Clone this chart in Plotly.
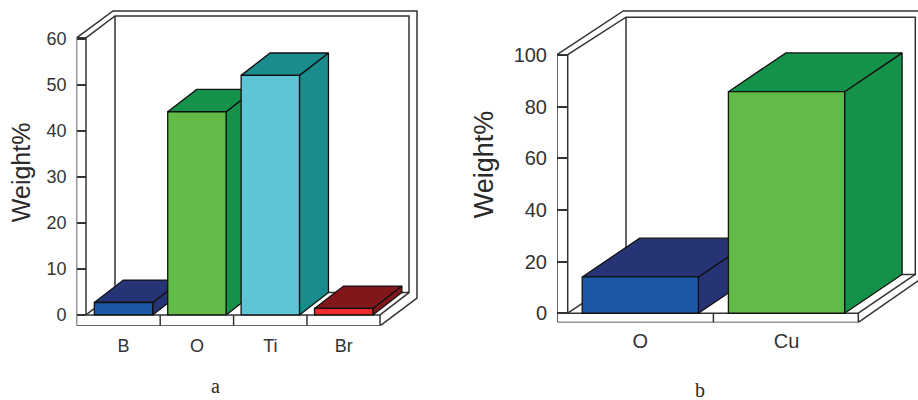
import plotly.graph_objects as go

# ---- data ----
cats_a = ["B", "O", "Ti", "Br"]
vals_a = [2.7, 44.1, 52.0, 1.4]
front_a = ["#1c57a5", "#62bb46", "#5cc6d6", "#ee2a2b"]
dark_a = ["#263375", "#15924a", "#1a8c8d", "#81171a"]
ticks_a = [0, 10, 20, 30, 40, 50, 60]

cats_b = ["O", "Cu"]
vals_b = [14.05, 85.8]
front_b = ["#1c57a5", "#62bb46"]
dark_b = ["#263375", "#15924a"]
ticks_b = [0, 20, 40, 60, 80, 100]

W, H = 918, 400
EDGE = "#111111"
FRAME = "#333333"
TXT = "#333333"
FONT = "Liberation Sans, Arial, sans-serif"
BAR_W = 0.795

fig = go.Figure()


def panel(cats, vals, front, dark, ticks, xa, ya, xb, yb, g, font_size):
    """g holds the panel's scale (px of first bar centre, pitch, zero, px per unit) and frame."""
    cx0, pitch, y0, ppu = g["cx0"], g["pitch"], g["y0"], g["ppu"]
    X = lambda px: (px - cx0) / pitch
    Y = lambda py: (y0 - py) / ppu
    ddx, ddy = g["ddx"] / pitch, g["ddy"] / ppu

    # frame
    fx, fy = [], []

    def seg(*pts):
        for p in pts:
            fx.append(X(p[0]))
            fy.append(Y(p[1]))
        fx.append(None)
        fy.append(None)

    L, I, R, top, bot, base = g["L"], g["I"], g["R"], g["top"], g["bot"], y0
    bi, bin_r, bt, bb = g["bi"], g["bi_r"], g["bt"], g["bb"]
    ol, ot, orx, ory = g["ol"], g["ot"], g["orx"], g["ory"]
    seg((L, top), (L, bot), (R, bot), (R, base), (I, base), (I, top), (L, top))
    seg((L, top), (ol, ot), (orx, ot), (orx, ory), (R, bot))
    seg((I, top), (bi, bt), (bin_r, bt), (bin_r, bb), (bi, bb), (bi, bt))
    seg((I, base), (bi, bb))
    seg((R, base), (bin_r, bb))
    for i in range(len(cats) - 1):
        mid = cx0 + pitch * (i + 0.5)
        seg((mid, base), (mid, bot))
    fig.add_trace(go.Scatter(x=fx, y=fy, mode="lines", xaxis=xa, yaxis=ya, hoverinfo="skip",
                             showlegend=False, line=dict(color=FRAME, width=1.5)))

    # side and top faces, in the panel's data coordinates
    for i, v in enumerate(vals):
        l, r = i - BAR_W / 2, i + BAR_W / 2
        for px, py in (
            ([r, r, r + ddx, r + ddx, r], [0, v, v + ddy, ddy, 0]),
            ([l, r, r + ddx, l + ddx, l], [v, v, v + ddy, v + ddy, v]),
        ):
            fig.add_trace(go.Scatter(x=px, y=py, mode="lines", fill="toself", fillcolor=dark[i],
                                     xaxis=xa, yaxis=ya, hoverinfo="skip", showlegend=False,
                                     line=dict(color=EDGE, width=1.3)))

    # front faces
    fig.add_trace(go.Bar(x=list(range(len(cats))), y=vals, width=BAR_W, xaxis=xb, yaxis=yb,
                         marker=dict(color=front, line=dict(color=EDGE, width=1.3)),
                         showlegend=False, hovertemplate="%{y}<extra></extra>"))

    xr = [X(L), X(g["dom_r"])]
    yr = [Y(bot), Y(g["dom_t"])]
    xdom = [L / W, g["dom_r"] / W]
    ydom = [1 - bot / H, 1 - g["dom_t"] / H]
    an = lambda s: s.replace("x", "xaxis").replace("y", "yaxis")
    fig.layout[an(xa)] = dict(domain=xdom, range=xr, anchor=ya, showgrid=False, zeroline=False,
                              showline=False, tickmode="array", tickvals=list(range(len(cats))),
                              ticktext=cats, ticks="", ticklabelstandoff=g["xstand"],
                              tickfont=dict(family=FONT, size=font_size, color=TXT))
    fig.layout[an(ya)] = dict(domain=ydom, range=yr, anchor=xa, showgrid=False, zeroline=False,
                              showline=False, tickmode="array", tickvals=ticks,
                              ticktext=[str(t) for t in ticks], ticks="inside",
                              ticklen=I - L, tickwidth=1.5, tickcolor=FRAME,
                              ticklabelstandoff=g["ystand"],
                              tickfont=dict(family=FONT, size=font_size, color=TXT))
    fig.layout[an(xb)] = dict(domain=xdom, range=xr, anchor=yb, overlaying=xa, visible=False)
    fig.layout[an(yb)] = dict(domain=ydom, range=yr, anchor=xb, overlaying=ya, visible=False)


panel(cats_a, vals_a, front_a, dark_a, ticks_a, "x", "y", "x3", "y3",
      dict(cx0=123.5, pitch=73.4, y0=316.5, ppu=4.63, ddx=29, ddy=22.5,
           L=76.5, I=86, R=380, top=38, bot=327.5,
           bi=115, bi_r=409, bt=16, bb=294,
           ol=113, ot=11, orx=417, ory=299.5, dom_r=430, dom_t=5, xstand=7, ystand=9), 18)

panel(cats_b, vals_b, front_b, dark_b, ticks_b, "x2", "y2", "x4", "y4",
      dict(cx0=640.3, pitch=146.2, y0=314.8, ppu=2.595, ddx=57.5, ddy=39,
           L=557, I=567.7, R=858.3, top=55, bot=324,
           bi=626, bi_r=915.3, bt=17.3, bb=275.8,
           ol=623.3, ot=11, orx=950, ory=260, dom_r=918, dom_t=5, xstand=5, ystand=9), 20)


def note(text, px, py, size, family, angle=0):
    fig.add_annotation(text=text, x=px / W, y=1 - py / H, xref="paper", yref="paper", showarrow=False,
                       xanchor="center", yanchor="middle", textangle=angle,
                       font=dict(family=family, size=size, color="#2a2a2a"))


note("Weight%", 21, 173, 25, FONT, -90)
note("Weight%", 484, 165, 27, FONT, -90)
note("a", 215, 388, 20, "Liberation Serif, Times New Roman, serif")
note("b", 700, 391.5, 20, "Liberation Serif, Times New Roman, serif")

fig.update_layout(width=W, height=H, margin=dict(l=0, r=0, t=0, b=0), paper_bgcolor="white",
                  plot_bgcolor="white", showlegend=False)
fig.write_html("out.html", post_script="document.body.style.margin='0';",
               config=dict(displayModeBar=False))
